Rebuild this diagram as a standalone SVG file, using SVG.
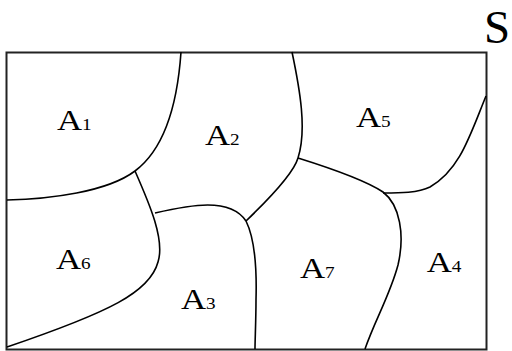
<svg xmlns="http://www.w3.org/2000/svg" width="512" height="351" viewBox="0 0 512 351">
<style>
.b{fill:none;stroke:#000;stroke-width:1.6}
.lbl{font-family:"Liberation Serif","Times New Roman",serif;font-size:29px;fill:#000}
.sub{font-size:16px}
</style>
<rect width="512" height="351" fill="#fff"/>
<g id="frame"><rect x="6.5" y="52.5" width="480" height="297" fill="none" stroke="#222" stroke-width="2"/></g>
<g id="connectors">
<path class="b" d="M181,52 C177,110 163,150 135,171 C107,192 50,199 7,200"/>
<path class="b" d="M135,171 C150,205 165,240 158,262 C150,292 110,312 7,347"/>
<path class="b" d="M155,213 C190,205 230,197 246,221 C254,237 257,265 256,300 C256,320 255,340 255,349"/>
<path class="b" d="M292,52 C300,90 307,130 298,158 C294,172 270,198 246,221"/>
<path class="b" d="M298,158 C330,168 365,180 383,192 C400,205 405,235 398,265 C390,295 375,320 365,349"/>
<path class="b" d="M486,96 C470,135 460,170 430,187 C418,193 400,193 383,193"/>
</g>
<g id="S"><text x="484" y="43" style="font-family:'Liberation Serif','Times New Roman',serif;font-size:47px">S</text></g>
<g id="A1" transform="translate(57,129.5) scale(1.2,1)"><text class="lbl">A<tspan class="sub">1</tspan></text></g>
<g id="A2" transform="translate(205,144.5) scale(1.2,1)"><text class="lbl">A<tspan class="sub">2</tspan></text></g>
<g id="A5" transform="translate(356,126.7) scale(1.2,1)"><text class="lbl">A<tspan class="sub">5</tspan></text></g>
<g id="A6" transform="translate(56,269.3) scale(1.2,1)"><text class="lbl">A<tspan class="sub">6</tspan></text></g>
<g id="A3" transform="translate(181,309.3) scale(1.2,1)"><text class="lbl">A<tspan class="sub">3</tspan></text></g>
<g id="A7" transform="translate(300,278.3) scale(1.2,1)"><text class="lbl">A<tspan class="sub">7</tspan></text></g>
<g id="A4" transform="translate(426.7,272) scale(1.2,1)"><text class="lbl">A<tspan class="sub">4</tspan></text></g>
</svg>
